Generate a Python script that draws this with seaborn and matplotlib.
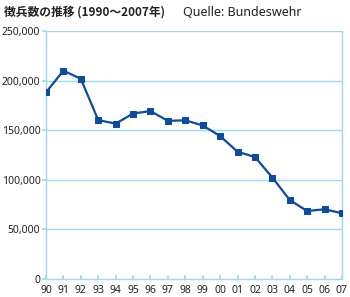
import matplotlib
matplotlib.use("Agg")
import matplotlib.pyplot as plt
import seaborn as sns
import pandas as pd

years = ["90", "91", "92", "93", "94", "95", "96", "97", "98", "99",
         "00", "01", "02", "03", "04", "05", "06", "07"]
conscripts = [188200, 210000, 201800, 160200, 156600, 166800, 169300, 159400, 160000, 154800,
              144100, 128300, 123000, 102300, 79600, 68500, 70300, 66300]
y_ticks = [0, 50000, 100000, 150000, 200000, 250000]
y_tick_labels = ["0", "50,000", "100,000", "150,000", "200,000", "250,000"]

sns.set_theme(style="white")
plt.rcParams['font.family'] = ['Noto Sans CJK JP', 'DejaVu Sans']

df = pd.DataFrame({"pos": list(range(len(years))), "value": conscripts})

fig = plt.figure(figsize=(3.5, 2.97), dpi=100)
ax = fig.add_axes([46/350, 1 - 279/297, (342-46)/350, (279-31)/297])

grid_c = "#9fd8f5"
for v in y_ticks[1:]:
    ax.axhline(v, color=grid_c, lw=1.0, zorder=0)

sns.lineplot(data=df, x="pos", y="value", ax=ax, color="#0b4c9e", lw=1.6,
             marker="s", markersize=5, markeredgecolor="#0b4c9e", zorder=3)

ax.set_xlim(0, len(years) - 1)
ax.set_ylim(0, 250000)
ax.set_xticks(range(len(years)))
ax.set_xticklabels(years)
ax.set_yticks(y_ticks)
ax.set_yticklabels(y_tick_labels)
ax.set_xlabel("")
ax.set_ylabel("")

for s in ["left", "right", "bottom"]:
    ax.spines[s].set_color(grid_c)
    ax.spines[s].set_linewidth(1.0)
ax.spines["top"].set_visible(False)

ax.tick_params(axis="x", direction="in", length=3, color=grid_c, pad=4,
               labelsize=7.5, labelcolor="#222222", bottom=True)
ax.tick_params(axis="y", direction="out", length=3, color=grid_c, pad=1,
               labelsize=7.5, labelcolor="#222222", left=True)
for lbl in ax.get_xticklabels() + ax.get_yticklabels():
    lbl.set_family(['Noto Sans', 'DejaVu Sans'])

fig.text(4/350, 1 - 12/297, "徴兵数の推移 (1990～2007年)", fontsize=8.5, fontweight="bold",
         va="center", ha="left", color="#222222",
         family=['Noto Sans CJK JP', 'DejaVu Sans'])
fig.text(183/350, 1 - 12/297, "Quelle: Bundeswehr", fontsize=9, va="center", ha="left",
         color="#222222", family=['Noto Sans', 'DejaVu Sans'])

fig.savefig("out.png", dpi=100)
